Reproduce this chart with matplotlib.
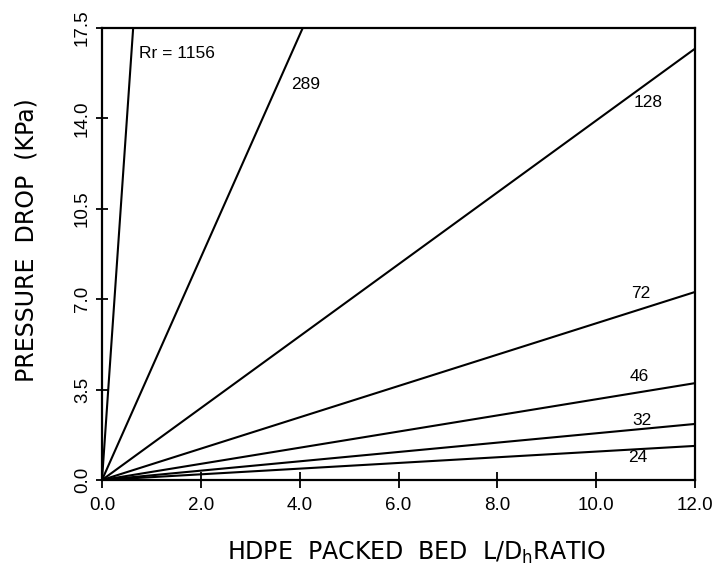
import matplotlib
matplotlib.use("Agg")
import matplotlib.pyplot as plt
import numpy as np

# ---- data ----
re_numbers = ["1156", "289", "128", "72", "46", "32", "24"]
ld_ratio = [0.0, 12.0]                                  # L/Dh range of each line
dp_at_12 = [333.0, 51.7, 16.7, 7.28, 3.75, 2.17, 1.32]  # kPa at L/Dh = 12 (straight lines from origin)
x_ticks = [0.0, 2.0, 4.0, 6.0, 8.0, 10.0, 12.0]
y_ticks = [0.0, 3.5, 7.0, 10.5, 14.0, 17.5]

label_text = ["Rr = 1156", "289", "128", "72", "46", "32", "24"]
label_pos = [(0.75, 16.5), (3.82, 15.3), (10.75, 14.6), (10.7, 7.24),
             (10.67, 3.99), (10.73, 2.32), (10.65, 0.89)]

narrow = ["Liberation Sans", "DejaVu Sans"]

fig = plt.figure(figsize=(7.21, 5.76), dpi=100)
ax = fig.add_axes([102/721, 1 - 480/576, (695-102)/721, (480-28)/576])

for dp in dp_at_12:
    ax.plot(ld_ratio, [0.0, dp], color="black", lw=1.5, solid_capstyle="butt")

for txt, (lx, ly) in zip(label_text, label_pos):
    ax.text(lx, ly, txt, fontsize=12.5, family=narrow, ha="left", va="center")

ax.set_xlim(0, 12)
ax.set_ylim(0, 17.5)
ax.set_xticks(x_ticks)
ax.set_yticks(y_ticks)
ax.set_xticklabels([f"{v:.1f}" for v in x_ticks], family=narrow, fontsize=13.5)
ax.set_yticklabels([f"{v:.1f}" for v in y_ticks], family=narrow, fontsize=13.5,
                   rotation=90, va="center")
ax.tick_params(axis="x", direction="inout", length=11, width=1.3, pad=7)
ax.tick_params(axis="y", direction="inout", length=8, width=1.3, pad=4)
for s in ax.spines.values():
    s.set_linewidth(1.6)

fig.text(27/721, 1 - 240/576, "PRESSURE  DROP  (KPa)", rotation=90,
         ha="center", va="center", fontsize=17, family="DejaVu Sans")
fig.text(417/721, 1 - 553/576, r"HDPE  PACKED  BED  L/D$_\mathregular{h}$RATIO",
         ha="center", va="center", fontsize=17, family="DejaVu Sans")

fig.savefig("out.png", dpi=100, facecolor="white")
